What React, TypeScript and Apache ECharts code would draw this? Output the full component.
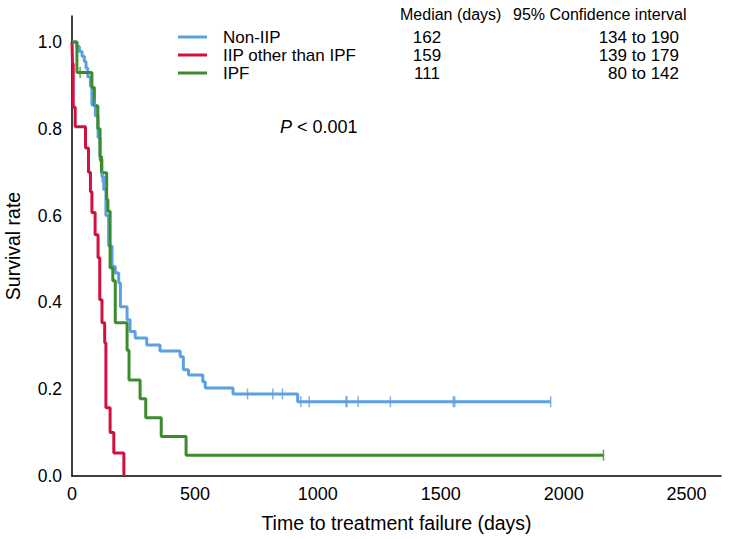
import React, { useEffect, useRef } from "react";
import * as echarts from "echarts";

// Kaplan–Meier step data (time in days, survival after drop)
const nonIipTimes = [0, 20, 30, 41, 50, 57, 64, 75, 81, 95, 106, 114, 122, 129, 138, 149, 163, 176, 190, 197, 224, 236, 257, 304, 358, 440, 453, 474, 532, 542, 655, 918, 1947];
const nonIipSurv = [1.0, 0.99, 0.978, 0.967, 0.955, 0.94, 0.92, 0.898, 0.855, 0.83, 0.78, 0.73, 0.69, 0.66, 0.6, 0.53, 0.483, 0.468, 0.445, 0.39, 0.36, 0.333, 0.318, 0.302, 0.288, 0.275, 0.245, 0.233, 0.217, 0.203, 0.189, 0.171, 0.171];
const nonIipCensor = [93, 122, 714, 817, 856, 931, 965, 1115, 1118, 1164, 1295, 1551, 1557, 1947];

const iipOtherTimes = [0, 2, 5, 13, 55, 67, 75, 81, 94, 106, 113, 122, 133, 138, 155, 170, 211];
const iipOtherSurv = [1.0, 0.95, 0.85, 0.805, 0.756, 0.7, 0.655, 0.607, 0.556, 0.503, 0.406, 0.353, 0.307, 0.157, 0.1, 0.053, 0];

const ipfTimes = [0, 20, 81, 91, 105, 114, 120, 141, 146, 155, 166, 176, 224, 232, 277, 300, 363, 464, 2162];
const ipfSurv = [1.0, 0.93, 0.895, 0.853, 0.8, 0.736, 0.699, 0.637, 0.61, 0.48, 0.45, 0.353, 0.29, 0.221, 0.178, 0.134, 0.091, 0.048, 0.048];
const ipfCensor = [33, 114, 2162];

const groupNames = ["Non-IIP", "IIP other than IPF", "IPF"];
const groupColors = ["#5ba0e0", "#cf1040", "#3c8c2c"];
const medians = ["162", "159", "111"];
const ciTexts = ["134 to 190", "139 to 179", "80 to 142"];
const xTicks = [0, 500, 1000, 1500, 2000, 2500];
const yTicks = [0, 0.2, 0.4, 0.6, 0.8, 1.0];

const FONT = "'Liberation Sans', Arial, Helvetica, sans-serif";

function survAt(times: number[], surv: number[], t: number) {
  let s = surv[0];
  for (let i = 0; i < times.length; i++) {
    if (times[i] <= t) s = surv[i];
  }
  return s;
}

function pairs(times: number[], surv: number[]) {
  return times.map((t, i) => [t, surv[i]]);
}

export default function App() {
  const ref = useRef<HTMLDivElement>(null);
  useEffect(() => {
    if (!ref.current) return;
    const chart = echarts.init(ref.current, undefined, { renderer: "svg" });

    const lineSeries = (name: string, data: number[][], color: string) => ({
      name,
      type: "line",
      step: "end",
      data,
      showSymbol: false,
      symbol: "none",
      lineStyle: { width: 3, color },
      itemStyle: { color },
      z: 3,
    });
    const censorSeries = (name: string, times: number[], st: number[], sv: number[], color: string) => ({
      name: name + " censored",
      type: "scatter",
      data: times.map((t) => [t, survAt(st, sv, t)]),
      symbol: "rect",
      symbolSize: [1.5, 11],
      itemStyle: { color },
      z: 4,
    });

    const rowFont = `17px ${FONT}`;
    const legendRowsY = [37, 55, 73];
    const graphic: any[] = [
      {
        type: "text",
        left: 400,
        top: 6,
        style: { text: "Median (days)", font: `16px ${FONT}`, fill: "#000", lineHeight: 16 },
      },
      {
        type: "text",
        left: 513,
        top: 6,
        style: { text: "95% Confidence interval", font: `16px ${FONT}`, fill: "#000", lineHeight: 16 },
      },
      {
        type: "text",
        x: 280,
        y: 127,
        style: {
          text: "{i|P} < 0.001",
          font: `18px ${FONT}`,
          fill: "#000",
          verticalAlign: "middle",
          rich: { i: { fontStyle: "italic", fontSize: 18, fontFamily: FONT } },
        },
      },
    ];
    groupNames.forEach((n, i) => {
      const y = legendRowsY[i];
      graphic.push({
        type: "line",
        shape: { x1: 178, y1: y, x2: 207, y2: y },
        style: { stroke: groupColors[i], lineWidth: 3 },
      });
      graphic.push({
        type: "text",
        x: 223,
        y,
        style: { text: n, font: rowFont, lineHeight: 16, fill: "#000", verticalAlign: "middle" },
      });
      graphic.push({
        type: "text",
        x: 427,
        y,
        style: { text: medians[i], font: rowFont, lineHeight: 16, fill: "#000", verticalAlign: "middle", align: "center" },
      });
      graphic.push({
        type: "text",
        x: 679,
        y,
        style: { text: ciTexts[i], font: rowFont, lineHeight: 16, fill: "#000", verticalAlign: "middle", align: "right" },
      });
    });

    chart.setOption({
      animation: false,
      backgroundColor: "#fff",
      textStyle: { fontFamily: FONT },
      grid: { left: 72, right: 29, top: 16, bottom: 63, containLabel: false, outerBoundsMode: "none" },
      xAxis: {
        type: "value",
        min: xTicks[0],
        max: 2640,
        interval: xTicks[1] - xTicks[0],
        axisLine: { show: true, onZero: false, lineStyle: { color: "#000", width: 1.5 } },
        axisTick: { show: false },
        splitLine: { show: false },
        axisLabel: {
          fontSize: 18,
          color: "#000",
          margin: 9,
          showMaxLabel: false,
          fontFamily: FONT,
          formatter: (v: number) => String(v),
        },
        name: "Time to treatment failure (days)",
        nameLocation: "middle",
        nameGap: 37,
        nameTextStyle: { fontSize: 19.5, color: "#000", fontFamily: FONT },
      },
      yAxis: {
        type: "value",
        min: yTicks[0],
        max: 1.06,
        interval: yTicks[1] - yTicks[0],
        axisLine: { show: true, lineStyle: { color: "#000", width: 1.5 } },
        axisTick: { show: false },
        splitLine: { show: false },
        axisLabel: {
          fontSize: 17.5,
          color: "#000",
          margin: 10,
          showMaxLabel: false,
          fontFamily: FONT,
          formatter: (v: number) => v.toFixed(1),
        },
        name: "Survival rate",
        nameLocation: "middle",
        nameGap: 49,
        nameTextStyle: { fontSize: 19.5, color: "#000", fontFamily: FONT },
      },
      series: [
        lineSeries(groupNames[0], pairs(nonIipTimes, nonIipSurv), groupColors[0]),
        lineSeries(groupNames[1], pairs(iipOtherTimes, iipOtherSurv), groupColors[1]),
        lineSeries(groupNames[2], pairs(ipfTimes, ipfSurv), groupColors[2]),
        censorSeries(groupNames[0], nonIipCensor, nonIipTimes, nonIipSurv, groupColors[0]),
        censorSeries(groupNames[2], ipfCensor, ipfTimes, ipfSurv, groupColors[2]),
      ],
      graphic,
    });
    return () => chart.dispose();
  }, []);

  return (
    <div
      ref={ref}
      style={{ position: "fixed", left: 0, top: 0, width: 750, height: 539, background: "#fff" }}
    />
  );
}
